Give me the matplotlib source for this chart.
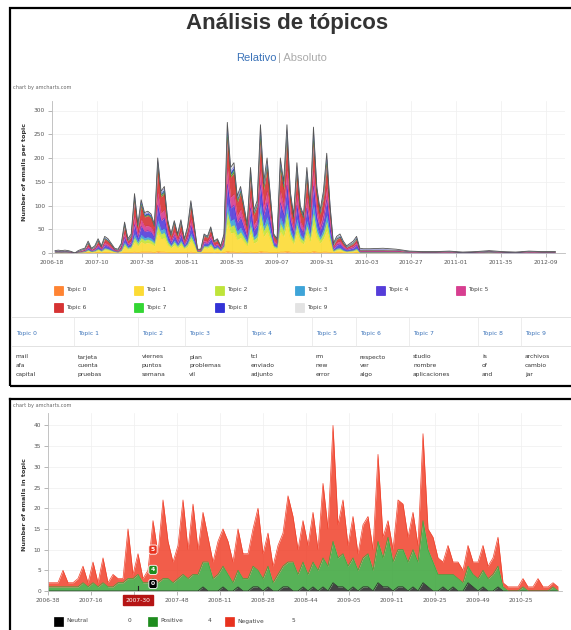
import numpy as np
import matplotlib
matplotlib.use("Agg")
import matplotlib.pyplot as plt
import matplotlib.transforms as mtrans
from matplotlib.patches import Rectangle
from matplotlib.lines import Line2D

plt.rcParams['font.family'] = ['DejaVu Sans']

W, H = 571, 630

# ---------------- top chart: emails per topic (week index from 2006-18) ----------------
weeks = list(range(0, 188, 2)) + list(range(190, 303, 8))

topic0 = [0,0,0,0,0,0,0,0,0,0, 1,0,0,1,0,1,1,0,0,0, 0,1,1,1,2,1,2,2,2,2,
          1,3,2,2,1,1,1,1,1,1, 1,2,1,0,0,1,1,1,0,1, 0,1,3,2,2,1,2,1,1,2,
          1,1,3,2,2,1,1,1,2,2, 3,2,1,2,1,1,2,1,3,2, 1,2,2,1,0,1,1,0,0,0,
          0,1,0,0,0,0,0,0,0,0, 0,0,0,0,0,0,0,0,0]
topic1 = [1,1,1,1,1,0,0,1,2,2, 4,2,3,5,3,6,5,4,2,2, 4,13,7,9,22,14,22,18,20,18,
          14,40,28,30,16,10,16,10,16,8, 13,24,14,2,2,10,9,13,6,8, 4,10,60,40,42,27,31,23,14,40,
          20,24,59,33,44,27,10,8,44,33, 59,29,18,42,23,18,40,23,58,31, 20,29,46,23,3,5,6,4,2,3,
          4,5,1,1,1,1,1,0,0,0, 0,0,0,1,0,0,0,0,0]
topic2 = [0,0,0,0,0,0,0,0,0,1, 1,1,1,2,1,2,2,1,1,0, 1,5,2,3,8,5,8,7,7,6,
          5,14,10,11,6,3,6,3,6,2, 4,8,5,1,1,3,3,4,2,2, 1,3,22,14,15,10,11,8,5,14,
          7,9,22,12,16,10,3,2,16,12, 22,10,6,15,8,6,14,8,21,11, 7,10,17,8,1,2,2,1,1,1,
          1,2,0,0,0,0,0,0,0,0, 0,0,0,0,0,0,0,0,0]
topic3 = [0,0,0,0,0,0,0,0,0,0, 1,0,1,1,1,2,1,1,0,0, 1,4,2,2,8,4,7,5,5,5,
          4,12,8,9,4,2,4,2,4,2, 3,7,4,0,0,2,2,3,2,2, 1,2,19,12,13,8,10,7,4,12,
          6,8,19,10,14,8,2,2,14,10, 19,9,6,13,7,6,12,7,19,10, 6,9,15,7,1,2,2,1,1,1,
          1,2,0,0,0,0,0,0,0,0, 0,0,0,0,0,0,0,0,0]
topic4 = [1,1,1,1,1,1,0,1,1,2, 4,2,2,5,2,6,5,3,2,1, 3,10,5,6,20,9,18,13,13,13,
          9,32,20,22,11,6,10,6,11,4, 9,17,9,1,1,6,5,9,4,4, 2,6,41,27,29,18,21,15,9,27,
          14,17,40,23,30,18,6,4,30,23, 40,20,12,29,15,12,27,15,40,21, 14,20,32,15,4,7,8,5,3,4,
          5,7,2,2,2,2,2,1,1,1, 1,1,1,1,1,1,1,1,1]
topic5 = [0,1,0,1,0,0,0,0,1,1, 3,1,2,4,2,5,4,3,1,1, 3,8,3,5,17,7,14,11,11,10,
          7,26,16,17,8,5,8,5,8,3, 7,13,7,1,1,5,4,7,3,3, 2,5,33,22,23,14,17,12,7,22,
          11,13,32,18,24,14,5,3,24,18, 32,16,10,23,12,10,22,12,32,17, 11,16,25,12,3,5,6,4,2,3,
          4,5,1,1,1,1,1,1,0,0, 1,0,0,1,0,0,1,0,0]
topic6 = [1,1,1,1,1,1,0,1,2,2, 6,2,3,7,3,8,7,5,2,2, 5,16,6,9,35,14,29,20,21,20,
          14,55,34,36,17,9,17,9,17,7, 13,29,14,2,2,9,8,13,6,7, 3,9,66,43,45,29,34,24,14,43,
          22,27,65,36,48,29,9,7,48,36, 65,31,19,45,24,19,43,24,63,34, 22,31,50,24,4,7,8,5,3,4,
          5,7,2,2,2,2,2,1,1,1, 1,0,1,1,1,0,1,1,1]
topic7 = [0,0,0,0,0,0,0,0,0,0, 1,0,0,1,0,1,1,0,0,0, 0,2,1,1,3,2,3,2,2,2,
          2,5,4,4,2,1,2,1,2,1, 1,3,2,0,0,1,1,1,0,1, 0,1,8,5,6,4,4,3,2,5,
          3,3,8,5,6,4,1,1,6,5, 8,4,2,6,3,2,5,3,8,4, 3,4,6,3,1,1,1,1,0,1,
          1,1,0,0,0,0,0,0,0,0, 0,0,0,0,0,0,0,0,0]
topic8 = [0,0,0,0,0,0,0,0,0,0, 1,0,1,1,1,1,1,1,0,0, 1,3,2,2,5,2,5,4,4,3,
          2,7,4,5,3,2,2,2,3,1, 2,4,2,0,0,2,1,2,1,1, 1,2,11,7,7,5,5,4,2,7,
          3,4,11,6,8,5,2,1,8,6, 11,5,3,7,4,3,7,4,10,5, 3,5,8,4,1,2,2,1,1,1,
          1,2,1,1,1,1,0,0,0,0, 0,0,0,0,0,0,0,0,0]
topic9 = [2,2,2,2,2,1,0,2,2,2, 3,2,2,3,2,3,3,2,2,2, 2,3,1,2,5,2,4,3,3,3,
          2,6,4,4,2,1,2,1,2,1, 2,3,2,1,1,1,1,2,1,1, 1,1,12,8,8,4,5,3,2,8,
          3,4,11,5,8,4,1,1,8,5, 11,4,3,8,3,3,8,3,11,5, 3,4,9,3,2,3,4,3,2,2,
          3,3,3,2,2,3,2,1,1,1, 1,1,1,1,1,1,1,1,1]

topic_names = ['Topic 0', 'Topic 1', 'Topic 2', 'Topic 3', 'Topic 4',
               'Topic 5', 'Topic 6', 'Topic 7', 'Topic 8', 'Topic 9']
topic_colors = ['#FF6600', '#FCD202', '#B0DE09', '#0D8ECF', '#2A0CD0',
                '#CD0D74', '#CC0000', '#00CC00', '#0000CC', '#DDDDDD']
top_ticks = ['2006-18', '2007-10', '2007-38', '2008-11', '2008-35', '2009-07',
             '2009-31', '2010-03', '2010-27', '2011-01', '2011-35', '2012-09']

topic_words = [['mail', 'afa', 'capital'], ['tarjeta', 'cuenta', 'pruebas'],
               ['viernes', 'puntos', 'semana'], ['plan', 'problemas', 'vil'],
               ['tcl', 'enviado', 'adjunto'], ['rm', 'new', 'error'],
               ['respecto', 'ver', 'algo'], ['studio', 'nombre', 'aplicaciones'],
               ['is', 'of', 'and'], ['archivos', 'cambio', 'jar']]

# ---------------- bottom chart: sentiment of emails in one topic ----------------
neutral = [0,0,0,0,0,0,0,0,0,0, 0,0,0,0,0,0,0,0,0,0, 0,0,0,0,0,0,0,0,0,0,
           0,1,0,0,0,1,0,0,1,0, 0,1,1,0,1,0,0,1,1,0, 0,1,0,1,0,1,0,2,1,1,
           0,1,0,1,1,0,2,1,1,0, 1,1,0,1,0,2,1,0,0,1, 0,1,0,0,2,1,0,1,0,0,
           1,0,0,0,0,0,0,0,0,0, 0,0,0]
positive = [1,1,1,1,1,1,1,2,1,2, 1,2,1,1,2,2,3,3,4,2, 2,3,2,3,3,2,3,4,3,4,
            4,6,7,3,4,5,4,2,4,3, 3,5,4,3,5,2,4,5,6,7, 4,6,4,6,5,7,6,10,7,8,
            6,7,5,7,8,5,10,7,12,7, 9,9,7,9,7,15,9,7,4,3, 4,3,3,2,4,3,3,4,3,4,
            5,1,0,0,0,1,0,0,0,0, 0,1,0]
negative = [1,1,1,4,1,1,2,4,1,5, 1,6,1,3,1,1,12,1,5,1, 3,14,7,19,9,5,8,18,7,17,
            6,12,6,4,8,9,8,5,10,6, 6,9,15,6,8,4,7,8,16,11, 6,10,7,12,5,18,9,28,8,13,
            5,10,4,8,9,5,21,5,4,3, 12,11,6,9,4,21,5,6,4,3, 7,3,4,3,5,3,4,6,3,4,
            7,1,1,1,1,2,1,1,3,1, 1,1,1]
sent_names = ['Neutral', 'Positive', 'Negative']
sent_colors = ['#222222', '#3AA53A', '#F0402A']
sent_legend_colors = ['#000000', '#1E8C1E', '#E8321E']
bottom_ticks = ['2006-38', '2007-16', '2007-30', '2007-48', '2008-11', '2008-28',
                '2008-44', '2009-05', '2009-11', '2009-25', '2009-49', '2010-25']
cursor_week = 18


def rect(l, t, r, b):
    return [l / W, 1 - b / H, (r - l) / W, (b - t) / H]


def fig_xy(x, y):
    return x / W, 1 - y / H


fig = plt.figure(figsize=(W / 100, H / 100), dpi=100)
fig.patch.set_facecolor('white')

# panel frames
fig.add_artist(Rectangle(fig_xy(10, 386), (575 - 10) / W, (386 - 8) / H, transform=fig.transFigure,
                         fill=False, edgecolor='black', lw=1.6))
fig.add_artist(Line2D([10 / W, 1], [1 - 399 / H] * 2, transform=fig.transFigure, color='black', lw=1.6))
fig.add_artist(Line2D([10 / W] * 2, [1 - 399 / H, 0], transform=fig.transFigure, color='black', lw=1.6))

# header texts
fig.text(*fig_xy(287, 23), 'Análisis de tópicos', ha='center', va='center', fontsize=16,
         fontweight='bold', family='Liberation Sans', color='#333333')
fig.text(*fig_xy(277, 58), 'Relativo', ha='right', va='center', fontsize=8,
         family='Liberation Sans', color='#3B73B9')
fig.text(*fig_xy(278, 58), '| Absoluto', ha='left', va='center', fontsize=8,
         family='Liberation Sans', color='#AAAAAA')
fig.text(*fig_xy(13, 88), 'chart by amcharts.com', ha='left', va='center', fontsize=3.6, color='#666666')
fig.text(*fig_xy(13, 405), 'chart by amcharts.com', ha='left', va='center', fontsize=3.6, color='#666666')


def style_axis(ax):
    for side in ['top', 'right']:
        ax.spines[side].set_visible(False)
    for side in ['left', 'bottom']:
        ax.spines[side].set_color('#BBBBBB')
        ax.spines[side].set_linewidth(0.6)
    ax.tick_params(labelsize=4.2, colors='#999999', labelcolor='#555555', length=3, width=0.5, pad=2)
    ax.grid(color='#EFEFEF', lw=0.5)
    ax.set_axisbelow(True)


# ---------------- top stacked area ----------------
ax1 = fig.add_axes(rect(52, 101, 565, 253))
layers = np.array([topic0, topic1, topic2, topic3, topic4,
                   topic5, topic6, topic7, topic8, topic9], dtype=float)
base = np.zeros(len(weeks))
for vals, col in zip(layers, topic_colors):
    top = base + vals
    ax1.fill_between(weeks, base, top, color=col, alpha=0.72, lw=0)
    ax1.plot(weeks, top, color=col, lw=0.3, alpha=0.6)
    base = top
ax1.plot(weeks, base, color='#555555', lw=0.6)
ax1.set_xlim(-1.8, 307.8)
ax1.set_ylim(0, 320)
ax1.set_yticks(range(0, 301, 50))
ax1.set_xticks(np.linspace(-1.8, 296.3, len(top_ticks)))
ax1.set_xticklabels(top_ticks)
style_axis(ax1)
fig.text(*fig_xy(25, 172), 'Number of emails per topic', rotation=90, ha='center', va='center',
         fontsize=4.6, fontweight='bold', color='#333333')

# top legend
for i, (name, col) in enumerate(zip(topic_names, topic_colors)):
    cx = 58 + 80.5 * (i % 6)
    cy = 290 + 17 * (i // 6)
    fig.add_artist(Rectangle(fig_xy(cx - 4.5, cy + 4.5), 9 / W, 9 / H, transform=fig.transFigure,
                             facecolor=col, edgecolor=col, alpha=0.8, lw=0.5))
    fig.text(*fig_xy(cx + 8, cy), name, ha='left', va='center', fontsize=4.2, color='#444444')

# topic words table
col_x = [16, 78, 142, 189, 251, 316, 360, 413, 482, 525]
fig.add_artist(Line2D([12 / W, 1], [1 - 317 / H] * 2, transform=fig.transFigure, color='#DDDDDD', lw=0.6))
fig.add_artist(Line2D([12 / W, 1], [1 - 346 / H] * 2, transform=fig.transFigure, color='#DDDDDD', lw=0.6))
for x in col_x[1:]:
    fig.add_artist(Line2D([(x - 4) / W] * 2, [1 - 317 / H, 1 - 346 / H], transform=fig.transFigure,
                          color='#E6E6E6', lw=0.5))
for x, name, words in zip(col_x, topic_names, topic_words):
    fig.text(*fig_xy(x, 334), name, ha='left', va='center', fontsize=4.3, color='#3B73B9')
    for j, w in enumerate(words):
        fig.text(*fig_xy(x, 357 + 8.8 * j), w, ha='left', va='center', fontsize=4.3, color='#333333')

# ---------------- bottom stacked area ----------------
ax2 = fig.add_axes(rect(48, 413, 562, 591))
k = np.arange(len(negative))
series = np.array([neutral, positive, negative], dtype=float)
base = np.zeros(len(k))
tops = []
for vals, col in zip(series, sent_colors):
    top = base + vals
    ax2.fill_between(k, base, top, color=col, alpha=0.85, lw=0)
    ax2.plot(k, top, color=col, lw=0.5)
    tops.append(top)
    base = top
ax2.set_xlim(0, 102.8)
ax2.set_ylim(0, 43)
ax2.set_yticks(range(0, 41, 5))
ax2.set_xticks(np.arange(len(bottom_ticks)) * 8.6)
ax2.set_xticklabels(bottom_ticks)
style_axis(ax2)
fig.text(*fig_xy(25, 505), 'Number of emails in topic', rotation=90, ha='center', va='center',
         fontsize=4.6, fontweight='bold', color='#333333')

# cursor with balloons
ax2.plot([cursor_week, cursor_week], [0, 1.2], color='#222222', lw=0.8)
ax2.get_xticklabels()[2].set_visible(False)
blend = mtrans.blended_transform_factory(ax2.transData, ax2.transAxes)
ax2.text(cursor_week, -0.052, bottom_ticks[2], transform=blend, ha='center', va='center',
         fontsize=4.3, color='white', clip_on=False,
         bbox=dict(boxstyle='square,pad=0.45', facecolor='#B51515', edgecolor='#B51515'))
prev = -10
for vals, top, col in zip(series, tops, sent_legend_colors):
    y = max(top[cursor_week] + 1, prev + 3.4, 1.7)
    prev = y
    ax2.text(cursor_week + 3, y, '%d' % vals[cursor_week], ha='center', va='center', fontsize=4.3,
             color='white', fontweight='bold', zorder=6,
             bbox=dict(boxstyle='round,pad=0.35', facecolor=col, edgecolor='white', lw=0.6))

# bottom legend
leg_x = [58, 152, 229]
val_x = [130, 210, 293]
for x, vx, name, col, vals in zip(leg_x, val_x, sent_names, sent_legend_colors, series):
    fig.add_artist(Rectangle(fig_xy(x - 4.5, 621 + 4.5), 9 / W, 9 / H, transform=fig.transFigure,
                             facecolor=col, edgecolor=col, lw=0.5))
    fig.text(*fig_xy(x + 8, 621), name, ha='left', va='center', fontsize=4.2, color='#444444')
    fig.text(*fig_xy(vx, 621), '%d' % vals[cursor_week], ha='center', va='center', fontsize=4.2,
             color='#444444')

fig.savefig('out.png', dpi=100)
